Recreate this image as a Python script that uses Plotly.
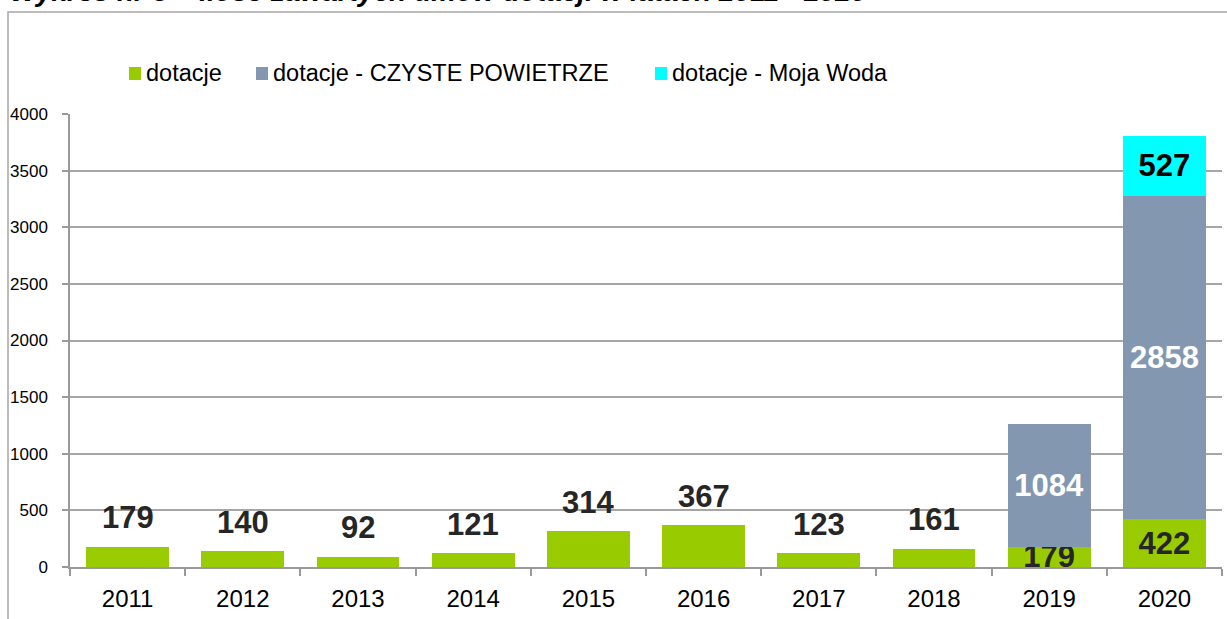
import plotly.graph_objects as go

# ---- data ----
years = ["2011", "2012", "2013", "2014", "2015", "2016", "2017", "2018", "2019", "2020"]
dotacje = [179, 140, 92, 121, 314, 367, 123, 161, 179, 422]
czyste_powietrze = [None, None, None, None, None, None, None, None, 1084, 2858]
moja_woda = [None, None, None, None, None, None, None, None, None, 527]

series_names = ["dotacje", "dotacje - CZYSTE POWIETRZE", "dotacje - Moja Woda"]
series_colors = ["#99CC00", "#8497B0", "#00FFFF"]
title_text = "Wykres nr 3 – Ilość zawartych umów dotacji w latach 2011 - 2020"

W, H = 1227, 619
L, R, T, B = 70, 5, 114, 52
PW, PH = W - L - R, H - T - B


def px2x(px):
    return (px - L) / PW


def py2y(py):
    return (H - B - py) / PH


stacked = [(c is not None) or (m is not None) for c, m in zip(czyste_powietrze, moja_woda)]

label_font = dict(family="Liberation Sans, Arial, sans-serif", size=31, weight=700)

fig = go.Figure()
fig.add_bar(
    x=years, y=dotacje, name=series_names[0], marker_color=series_colors[0],
    text=[str(v) if s else "" for v, s in zip(dotacje, stacked)],
    textposition="inside", insidetextanchor="middle", constraintext="none",
    textfont=dict(color="#262626", **label_font), cliponaxis=False,
)
fig.add_bar(
    x=years, y=czyste_powietrze, name=series_names[1], marker_color=series_colors[1],
    text=[str(v) if v is not None else "" for v in czyste_powietrze],
    textposition="inside", insidetextanchor="middle", constraintext="none",
    textfont=dict(color="#FFFFFF", **label_font),
)
fig.add_bar(
    x=years, y=moja_woda, name=series_names[2], marker_color=series_colors[2],
    text=[str(v) if v is not None else "" for v in moja_woda],
    textposition="inside", insidetextanchor="middle", constraintext="none",
    textfont=dict(color="#000000", **label_font),
)
for trace in fig.data:
    trace.marker.line.width = 0

# outside labels for single (non-stacked) bars
for i, (v, s) in enumerate(zip(dotacje, stacked)):
    if not s:
        fig.add_annotation(
            x=i, y=v, xref="x", yref="y", text=str(v), showarrow=False,
            yanchor="middle", yshift=29,
            font=dict(color="#262626", family="Liberation Sans, Arial, sans-serif", size=31, weight=700),
        )

# custom legend
legend_text_x = [146, 273, 672]
for name, color, tx in zip(series_names, series_colors, legend_text_x):
    fig.add_shape(type="rect", xref="paper", yref="paper",
                  x0=px2x(tx - 17), x1=px2x(tx - 5), y0=py2y(80), y1=py2y(67),
                  fillcolor=color, line_width=0)
    fig.add_annotation(xref="paper", yref="paper", x=px2x(tx - 2), y=py2y(73),
                       xanchor="left", yanchor="middle", showarrow=False, text=name,
                       font=dict(family="Liberation Sans, Arial, sans-serif", size=23.5, color="#000000"))

# title (partly cut at top, as in the reference)
fig.add_annotation(xref="paper", yref="paper", x=px2x(8), y=py2y(-8),
                   xanchor="left", yanchor="middle", showarrow=False, text=title_text,
                   font=dict(family="Liberation Sans, Arial, sans-serif", size=28, weight=700,
                             style="italic", color="#000000"))

# outer frame
fig.add_shape(type="rect", xref="paper", yref="paper",
              x0=px2x(8), x1=px2x(1260), y0=py2y(660), y1=py2y(12),
              line=dict(color="#A6A6A6", width=1.5), fillcolor="rgba(0,0,0,0)", layer="below")

fig.update_layout(
    width=W, height=H,
    margin=dict(l=L, r=R, t=T, b=B, pad=0),
    barmode="stack", bargap=0.28,
    showlegend=False,
    plot_bgcolor="white", paper_bgcolor="white",
    font=dict(family="Liberation Sans, Arial, sans-serif", color="#000000"),
)
fig.update_xaxes(
    type="category", categoryorder="array", categoryarray=years,
    range=[-0.5, len(years) - 0.5], autorange=False,
    showline=True, linecolor="#999999", linewidth=1.5,
    ticks="outside", tickson="boundaries", ticklen=7, tickcolor="#999999", tickwidth=1.5,
    tickfont=dict(family="Liberation Sans, sans-serif", size=24, color="#000000"),
    ticklabelstandoff=9, showgrid=False,
)
fig.update_yaxes(
    range=[0, 4000], autorange=False, dtick=500, tick0=0,
    showline=True, linecolor="#999999", linewidth=1.5,
    ticks="outside", ticklen=6, tickcolor="#999999", tickwidth=1.5,
    showgrid=True, gridcolor="#A6A6A6", gridwidth=1.5, zeroline=False,
    tickfont=dict(family="Liberation Sans, Arial, sans-serif", size=17, color="#000000"),
    ticklabelstandoff=11,
)

fig.write_html("out.html", config={"displayModeBar": False},
               post_script="document.body.style.margin='0';document.body.style.overflow='hidden';")
